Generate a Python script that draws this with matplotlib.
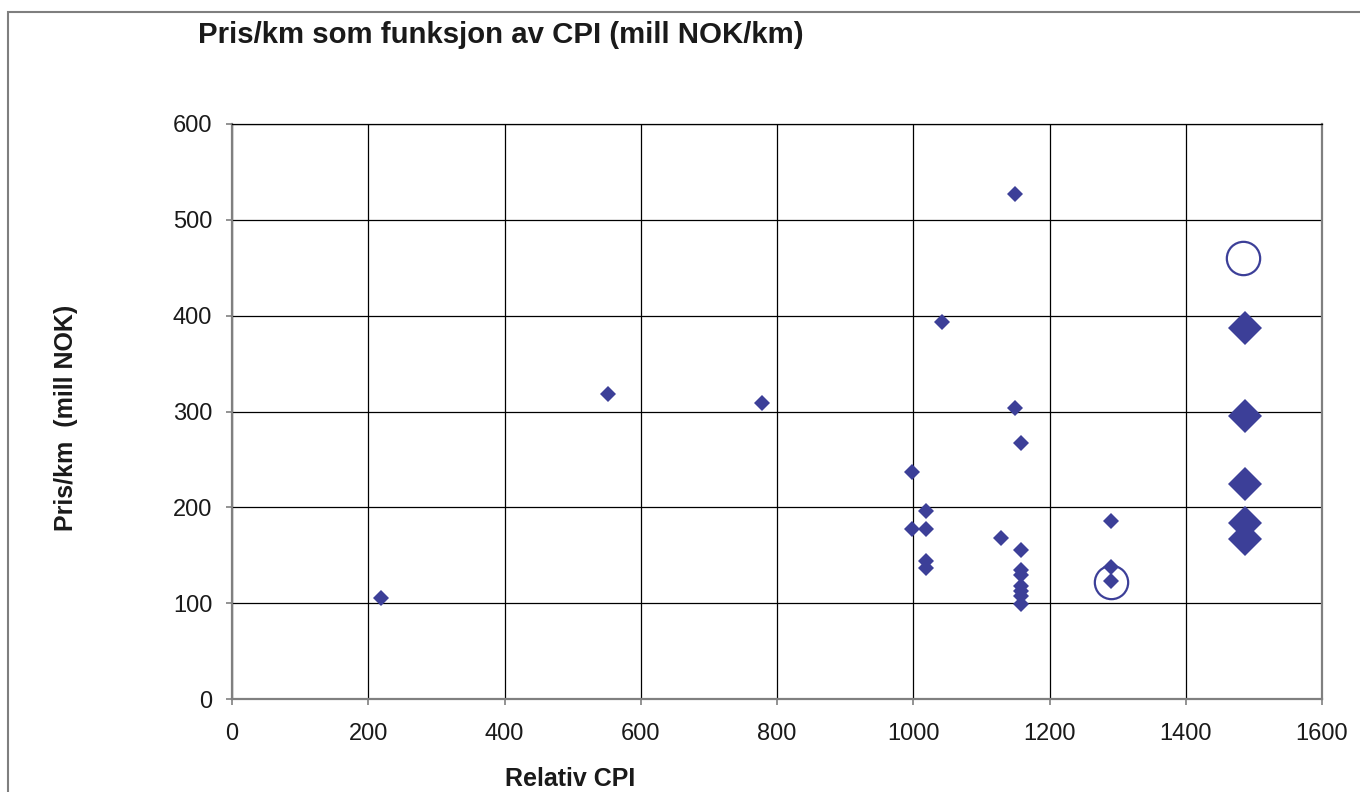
import matplotlib
matplotlib.use("Agg")
import matplotlib.pyplot as plt
from matplotlib.patches import Rectangle

plt.rcParams['font.family'] = ['Liberation Sans', 'DejaVu Sans']

# Small diamonds (regular projects)
cpi_small = [218, 552, 778, 1150, 1042, 1150, 1158, 998, 1019, 998, 1019, 1019, 1019,
             1129, 1158, 1158, 1158, 1158, 1158, 1158, 1158, 1291, 1291, 1291]
price_small = [105, 318, 309, 527, 393, 304, 267, 237, 196, 177, 177, 144, 137,
               168, 156, 135, 129, 118, 113, 107, 99, 186, 138, 123]

# Large diamonds
cpi_large = [1487, 1487, 1487, 1487, 1487]
price_large = [387, 295, 224, 184, 167]

# Open circles (highlighted)
cpi_circle = [1484, 1290]
price_circle = [460, 122]

color = '#3C3F98'
text_color = '#1a1a1a'

fig = plt.figure(figsize=(13.6, 7.92), dpi=100)
ax = fig.add_axes([232/1360, 93/792, 1090/1360, 575/792])

ax.plot(cpi_small, price_small, linestyle='none', marker='D', markersize=7.8,
        color=color, markeredgewidth=0, zorder=3)
ax.plot(cpi_large, price_large, linestyle='none', marker='D', markersize=17.5,
        color=color, markeredgewidth=0, zorder=3)
ax.plot(cpi_circle, price_circle, linestyle='none', marker='o', markersize=24,
        markerfacecolor='none', markeredgecolor=color, markeredgewidth=1.6, zorder=4)

ax.set_xlim(0, 1600)
ax.set_ylim(0, 600)
ax.set_xticks(range(0, 1601, 200))
ax.set_yticks(range(0, 601, 100))
ax.grid(True, color='black', linewidth=0.9)
ax.set_axisbelow(True)
for s in ax.spines.values():
    s.set_color('#808080')
    s.set_linewidth(1.6)
ax.spines['top'].set_color('black')
ax.spines['top'].set_linewidth(0.9)
ax.tick_params(axis='both', colors='#808080', labelcolor=text_color, labelsize=17,
               length=4.3, width=1.2, direction='out')
ax.tick_params(axis='x', pad=13)
ax.tick_params(axis='y', pad=10)

fig.text(501/1360, 1 - 43/792, 'Pris/km som funksjon av CPI (mill NOK/km)',
         ha='center', va='baseline', fontsize=21.2, fontweight='bold', color=text_color)
fig.text(66/1360, 1 - 418/792, 'Pris/km  (mill NOK)', rotation=90,
         ha='center', va='center', fontsize=18, fontweight='bold', color=text_color)
fig.text(570/1360, 1 - 786/792, 'Relativ CPI',
         ha='center', va='baseline', fontsize=18, fontweight='bold', color=text_color)

fig.patches.append(Rectangle((8/1360, -0.1), 1.2, 1 - 12/792 + 0.1,
                             transform=fig.transFigure, fill=False,
                             edgecolor='#7f7f7f', linewidth=1.5))

fig.savefig('out.png', dpi=100)
